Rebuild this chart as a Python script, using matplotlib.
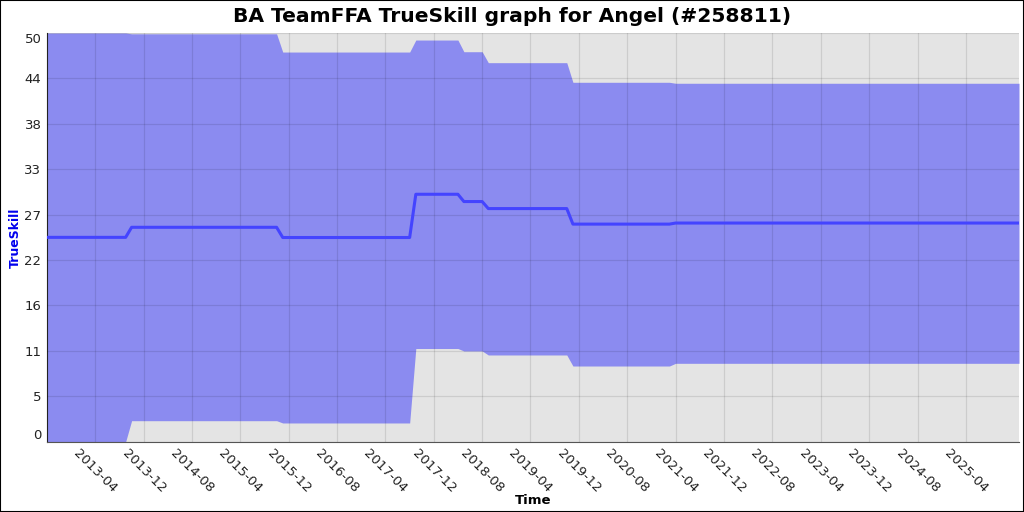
import matplotlib
matplotlib.use("Agg")
import matplotlib.pyplot as plt
import matplotlib.dates as mdates
import numpy as np
from datetime import datetime

# breakpoints of the rating history
dates = ["2012-08-01", "2013-09-01", "2013-10-01", "2015-10-01", "2015-11-01",
         "2017-08-01", "2017-09-01", "2018-04-01", "2018-05-01", "2018-08-01",
         "2018-09-01", "2019-10-01", "2019-11-01", "2021-03-01", "2021-04-01",
         "2025-12-25"]
mu = [25.0, 25.0, 26.23, 26.23, 24.98, 24.98, 30.27, 30.27, 29.38, 29.38,
      28.52, 28.52, 26.62, 26.62, 26.75, 26.75]
lower = [0.0, 0.0, 2.57, 2.57, 2.29, 2.29, 11.40, 11.40, 11.10, 11.10,
         10.61, 10.61, 9.26, 9.26, 9.59, 9.59]
upper = [50.0, 50.0, 49.9, 49.9, 47.67, 47.67, 49.14, 49.14, 47.71, 47.71,
         46.37, 46.37, 43.97, 43.97, 43.85, 43.85]

tick_dates = ["2013-04", "2013-12", "2014-08", "2015-04", "2015-12", "2016-08",
              "2017-04", "2017-12", "2018-08", "2019-04", "2019-12", "2020-08",
              "2021-04", "2021-12", "2022-08", "2023-04", "2023-12", "2024-08",
              "2025-04"]
y_ticks = [k * 50 / 9 for k in range(10)]
y_labels = [str(int(v + 1e-9)) for v in y_ticks]

x = [datetime.strptime(d, "%Y-%m-%d") for d in dates]
xt = [datetime.strptime(d, "%Y-%m") for d in tick_dates]

fig = plt.figure(figsize=(10.24, 5.12), dpi=100)
ax = fig.add_axes([47 / 1024, 1 - 441.7 / 512, 972 / 1024, 408.7 / 512])
ax.set_facecolor("#e4e4e4")

ax.fill_between(x, lower, upper, color="#8b8bf0", lw=0, zorder=1)
ax.plot(x, mu, color="#4444ff", lw=2.2, zorder=3)

ax.set_xlim(x[0], x[-1])
ax.set_ylim(0, 50)

ax.set_yticks(y_ticks)
ax.set_yticklabels(y_labels)
ylab = ax.get_yticklabels()
ylab[0].set_va("bottom")
ylab[-1].set_va("top")

ax.set_xticks(xt)
ax.set_xticklabels(tick_dates, rotation=-45, ha="center", va="top")

ax.tick_params(length=0, labelsize=9.5, colors="#222222", pad=4)
ax.tick_params(axis="x", pad=4)
ax.grid(True, color="black", alpha=0.1, lw=0.9, zorder=2)
ax.set_axisbelow(False)
for g in ax.get_xgridlines() + ax.get_ygridlines():
    g.set_zorder(2)

for s in ["top", "right"]:
    ax.spines[s].set_visible(False)
ax.spines["left"].set_color("#222222")
ax.spines["bottom"].set_color("#555555")

ax.set_xlabel("Time", fontsize=9.5, fontweight="bold")
ax.xaxis.set_label_coords(0.5, -0.127)
ax.set_ylabel("TrueSkill", fontsize=9, fontweight="bold", color="#0000ee")
ax.yaxis.set_label_coords(-0.026, 0.5)
fig.text(0.5, 1 - 17 / 512, "BA TeamFFA TrueSkill graph for Angel (#258811)",
         ha="center", va="center", fontsize=14.6, fontweight="bold")

fig.patches.append(plt.Rectangle((0, 0), 1, 1, transform=fig.transFigure,
                                 fill=False, edgecolor="black", lw=1.5))

fig.savefig("out.png", dpi=100)
